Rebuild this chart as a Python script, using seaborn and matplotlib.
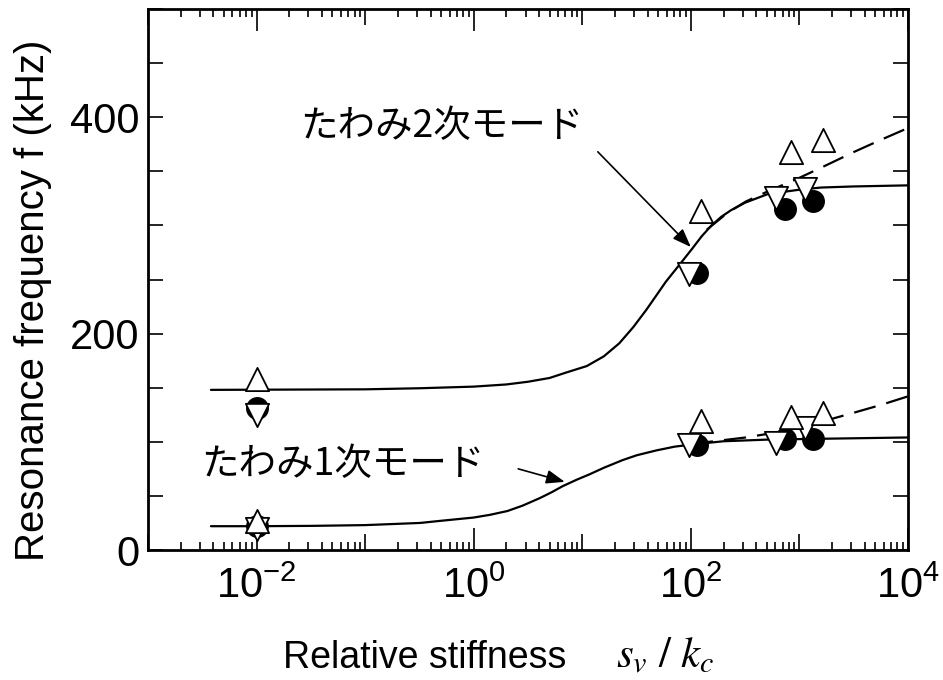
import numpy as np
import pandas as pd
import matplotlib
matplotlib.use("Agg")
import matplotlib.pyplot as plt
import seaborn as sns
from matplotlib.ticker import FixedLocator, FuncFormatter, MultipleLocator, NullFormatter

# ---- data ----
# 1st bending mode, calculated curve (solid)
mode1_x = [0.0038, 0.01, 0.032, 0.1, 0.32, 0.5, 1, 1.41, 2.04, 2.82, 4.07, 5.25, 6.6, 8.9,
           11.7, 15.8, 23.4, 31.6, 47.9, 70.8, 102, 200, 500, 1000, 10000]
mode1_y = [22, 22, 22.3, 23, 25, 27, 30, 32.5, 36, 41, 48, 53.5, 59, 65,
           70, 76, 83, 87.5, 92, 95.5, 97.5, 100.5, 102, 102.5, 104]
# 1st mode, dashed branch
mode1d_x = [100, 180, 320, 560, 1000, 1800, 3200, 5600, 10000]
mode1d_y = [98, 101, 104, 108, 113, 120, 127, 134, 142]
# 2nd bending mode, calculated curve (solid)
mode2_x = [0.0038, 0.1, 0.32, 1, 2, 3.16, 5, 7.1, 11, 15.8, 21.9, 29.5, 38.9, 47.9, 58.9,
           77.6, 102, 126, 155, 191, 234, 316, 513, 1000, 1585, 3162, 10000]
mode2_y = [148, 148.5, 149.5, 151, 153, 155.5, 159, 164, 170, 179, 191, 206, 222, 235, 248,
           263, 278, 290, 300, 308, 314, 321, 329, 333, 335, 336, 337]
# 2nd mode, dashed branch
mode2d_x = [140, 220, 320, 500, 1000, 1800, 3200, 5600, 10000]
mode2d_y = [296, 312, 322, 331, 344, 356, 368, 379, 390]

# measured points
up_x = [0.01, 123, 830, 1650]
up_m1 = [27, 119, 123, 127]
up_m2 = [158, 313, 368, 379]
down_x = [0.01, 97, 610, 1130]
down_m1 = [19, 97, 99, 113]
down_m2 = [125, 255, 325, 334]
circ_x = [0.01, 115, 740, 1320]
circ_m1 = [22, 97.5, 103, 103]
circ_m2 = [131, 256, 315, 323]

x_ticks_labeled = [1e-2, 1e0, 1e2, 1e4]
y_ticks_labeled = [0, 200, 400]

label_m1 = "たわみ1次モード"
label_m2 = "たわみ2次モード"

# ---- style ----
sns.set_style("ticks")
plt.rcParams["font.family"] = ["Liberation Sans", "Noto Sans CJK JP", "DejaVu Sans"]
plt.rcParams["mathtext.fontset"] = "stix"
for k in ["text.color", "axes.labelcolor", "xtick.color", "ytick.color", "axes.edgecolor"]:
    plt.rcParams[k] = "black"

fig = plt.figure(figsize=(9.43, 6.8), dpi=100)
ax = fig.add_axes([148 / 943, 1 - 550 / 680, 760 / 943, 541 / 680])
ax.set_xscale("log")

lw = 1.6
for xs, ys in [(mode1_x, mode1_y), (mode2_x, mode2_y)]:
    sns.lineplot(x=xs, y=ys, ax=ax, color="black", lw=lw, sort=False,
                 estimator=None, zorder=2)
for xs, ys in [(mode1d_x, mode1d_y), (mode2d_x, mode2d_y)]:
    sns.lineplot(x=xs, y=ys, ax=ax, color="black", lw=lw, sort=False,
                 estimator=None, zorder=2, linestyle=(0, (10, 5)))

ms_circ = 240
ms_tri = 280
for ys in (circ_m1, circ_m2):
    sns.scatterplot(x=circ_x, y=ys, ax=ax, marker="o", s=ms_circ, color="black",
                    edgecolor="black", linewidth=1.0, zorder=3)
for ys in (down_m1, down_m2):
    sns.scatterplot(x=down_x, y=ys, ax=ax, marker="v", s=ms_tri, color="white",
                    edgecolor="black", linewidth=1.3, zorder=4)
for ys in (up_m1, up_m2):
    sns.scatterplot(x=up_x, y=ys, ax=ax, marker="^", s=ms_tri, color="white",
                    edgecolor="black", linewidth=1.3, zorder=5)

ax.set_xlim(1e-3, 1e4)
ax.set_ylim(0, 500)

# annotations
cjk = ["Noto Sans CJK JP", "DejaVu Sans"]
ax.text(0.025, 391, label_m2, fontsize=27, family=cjk, va="center", ha="left", color="black")
ax.text(0.0031, 79, label_m1, fontsize=27, family=cjk, va="center", ha="left", color="black")
arrow = dict(arrowstyle="-|>,head_length=0.8,head_width=0.3", color="black",
             lw=1.2, mutation_scale=14, shrinkA=0, shrinkB=0)
ax.annotate("", xy=(100, 280), xytext=(13.9, 368), arrowprops=arrow)
ax.annotate("", xy=(6.9, 63), xytext=(2.57, 75), arrowprops=arrow)

# ticks
decades = [10.0 ** k for k in range(-3, 5)]
ax.xaxis.set_major_locator(FixedLocator(decades))
minors = [m * d for d in decades[:-1] for m in range(2, 10)]
ax.xaxis.set_minor_locator(FixedLocator(minors))
ax.xaxis.set_minor_formatter(NullFormatter())


def xfmt(v, pos):
    if any(abs(v / t - 1) < 1e-6 for t in x_ticks_labeled):
        e = int(round(np.log10(v)))
        return r"$\mathdefault{10^{%d}}$" % e
    return ""


ax.xaxis.set_major_formatter(FuncFormatter(xfmt))
ax.yaxis.set_major_locator(FixedLocator(y_ticks_labeled))
ax.yaxis.set_minor_locator(MultipleLocator(50))

ax.tick_params(which="both", direction="in", top=True, right=True, width=1.2,
               color="black", labelcolor="black")
ax.tick_params(axis="x", which="major", length=11.5, labelsize=30, pad=12)
ax.tick_params(axis="x", which="minor", length=5.5)
ax.tick_params(axis="y", which="both", length=11, labelsize=30, pad=6)
for s in ax.spines.values():
    s.set_linewidth(2)
    s.set_color("black")

# even decades have longer ticks
for tick, loc in zip(ax.xaxis.get_major_ticks(len(decades)), decades):
    if any(abs(loc / t - 1) < 1e-6 for t in x_ticks_labeled):
        tick.tick1line.set_markersize(15.5)
        tick.tick2line.set_markersize(15.5)

ax.set_ylabel("Resonance frequency f (kHz)", fontsize=29, color="black")
ax.yaxis.set_label_coords((52 - 148) / 760, (550 - 300) / 541)
ax.set_xlabel("Relative stiffness", fontsize=27, ha="left", va="baseline", color="black")
ax.xaxis.set_label_coords((283 - 148) / 760, (550 - 668) / 541)
ax.text((616 - 148) / 760, (550 - 668) / 541, r"$s_v\ /\ k_c$", fontsize=31,
        transform=ax.transAxes, ha="left", va="baseline", color="black")

fig.savefig("out.png", dpi=100)
